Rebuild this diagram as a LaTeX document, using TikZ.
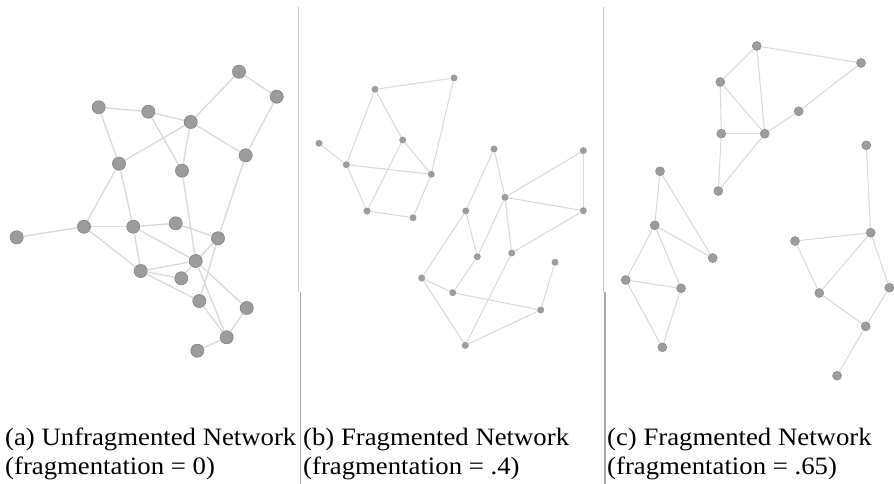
\documentclass[tikz,border=0pt]{standalone}
\usepackage{fontspec}
\setmainfont{Liberation Serif}
\usepackage{graphicx}
\definecolor{dotgray}{HTML}{9C9C9C}
\definecolor{rimgray}{HTML}{8A8A8A}
\definecolor{linkgray}{HTML}{DADADA}
\definecolor{rulegray}{HTML}{C8C8C8}
\definecolor{footgray}{HTML}{A8A8A8}
\newcommand{\capt}[1]{\scalebox{1.07}[1]{#1}}
\begin{document}
\begin{tikzpicture}[x=1pt, y=-1pt,
    bignode/.style={circle, fill=dotgray, draw=rimgray, line width=0.8pt, minimum size=13pt, inner sep=0pt},
    smallnode/.style={circle, fill=dotgray, minimum size=7pt, inner sep=0pt},
    midnode/.style={circle, fill=dotgray, draw=rimgray, line width=0.5pt, minimum size=9pt, inner sep=0pt},
    link/.style={draw=linkgray, line width=1.4pt},
    thinlink/.style={draw=linkgray, line width=1.1pt},
    caption/.style={anchor=base west, align=left, inner sep=0pt, font=\fontsize{25}{28.5}\selectfont}]
    \useasboundingbox (0,0) rectangle (894,484);

    \draw[rulegray, line width=1.4pt] (298.3,7) -- (298.3,292);
    \draw[footgray, line width=1.4pt] (300.7,292) -- (300.7,484);
    \draw[rulegray, line width=1.4pt] (603.3,7) -- (603.3,292);
    \draw[footgray, line width=1.4pt] (605,292) -- (605,484);

    \node(a1)[bignode] at (239,71.7) {};
    \node(a2)[bignode] at (276.7,96.7) {};
    \node(a3)[bignode] at (98.7,107.3) {};
    \node(a4)[bignode] at (148.3,111.7) {};
    \node(a5)[bignode] at (190.7,122) {};
    \node(a6)[bignode] at (245.7,155.3) {};
    \node(a7)[bignode] at (119,163.7) {};
    \node(a8)[bignode] at (182,170.7) {};
    \node(a9)[bignode] at (84,226.7) {};
    \node(a10)[bignode] at (133.3,226.7) {};
    \node(a11)[bignode] at (175.7,223.3) {};
    \node(a12)[bignode] at (16.7,237.3) {};
    \node(a13)[bignode] at (218,238.3) {};
    \node(a14)[bignode] at (195.7,261) {};
    \node(a15)[bignode] at (140.7,271) {};
    \node(a16)[bignode] at (181.3,278.3) {};
    \node(a17)[bignode] at (199.3,301) {};
    \node(a18)[bignode] at (246.7,308) {};
    \node(a19)[bignode] at (226.7,337.3) {};
    \node(a20)[bignode] at (197.3,350.7) {};

    \draw[link] (a1) -- (a2);
    \draw[link] (a1) -- (a5);
    \draw[link] (a2) -- (a6);
    \draw[link] (a3) -- (a4);
    \draw[link] (a3) -- (a7);
    \draw[link] (a4) -- (a5);
    \draw[link] (a4) -- (a8);
    \draw[link] (a5) -- (a7);
    \draw[link] (a5) -- (a6);
    \draw[link] (a5) -- (a8);
    \draw[link] (a8) -- (a14);
    \draw[link] (a6) -- (a13);
    \draw[link] (a13) -- (a17);
    \draw[link] (a7) -- (a9);
    \draw[link] (a7) -- (a10);
    \draw[link] (a9) -- (a12);
    \draw[link] (a9) -- (a10);
    \draw[link] (a9) -- (a15);
    \draw[link] (a10) -- (a11);
    \draw[link] (a10) -- (a14);
    \draw[link] (a10) -- (a15);
    \draw[link] (a11) -- (a13);
    \draw[link] (a13) -- (a14);
    \draw[link] (a14) -- (a15);
    \draw[link] (a14) -- (a16);
    \draw[link] (a15) -- (a16);
    \draw[link] (a15) -- (a17);
    \draw[link] (a14) -- (a18);
    \draw[link] (a14) -- (a19);
    \draw[link] (a17) -- (a19);
    \draw[link] (a18) -- (a19);
    \draw[link] (a19) -- (a20);

    \node(b1)[smallnode] at (454,78) {};
    \node(b2)[smallnode] at (375,89.3) {};
    \node(b3)[smallnode] at (319,143.3) {};
    \node(b4)[smallnode] at (402.7,140) {};
    \node(b5)[smallnode] at (346.3,164.7) {};
    \node(b6)[smallnode] at (431.3,174.3) {};
    \node(b7)[smallnode] at (367,211) {};
    \node(b8)[smallnode] at (413,217.7) {};
    \node(b9)[smallnode] at (494,149) {};
    \node(b10)[smallnode] at (583.3,150.7) {};
    \node(b11)[smallnode] at (505,197.3) {};
    \node(b12)[smallnode] at (465.7,211) {};
    \node(b13)[smallnode] at (583.3,210.7) {};
    \node(b14)[smallnode] at (477.3,256.7) {};
    \node(b15)[smallnode] at (511.7,253) {};
    \node(b16)[smallnode] at (555,262.3) {};
    \node(b17)[smallnode] at (421.7,278) {};
    \node(b18)[smallnode] at (452.7,292.7) {};
    \node(b19)[smallnode] at (540.7,310) {};
    \node(b20)[smallnode] at (465.3,345.3) {};

    \draw[thinlink] (b2) -- (b1);
    \draw[thinlink] (b1) -- (b6);
    \draw[thinlink] (b2) -- (b4);
    \draw[thinlink] (b2) -- (b5);
    \draw[thinlink] (b3) -- (b5);
    \draw[thinlink] (b4) -- (b6);
    \draw[thinlink] (b4) -- (b7);
    \draw[thinlink] (b5) -- (b6);
    \draw[thinlink] (b5) -- (b7);
    \draw[thinlink] (b7) -- (b8);
    \draw[thinlink] (b8) -- (b6);
    \draw[thinlink] (b9) -- (b12);
    \draw[thinlink] (b9) -- (b11);
    \draw[thinlink] (b11) -- (b10);
    \draw[thinlink] (b10) -- (b13);
    \draw[thinlink] (b11) -- (b13);
    \draw[thinlink] (b11) -- (b14);
    \draw[thinlink] (b11) -- (b15);
    \draw[thinlink] (b12) -- (b14);
    \draw[thinlink] (b12) -- (b17);
    \draw[thinlink] (b14) -- (b18);
    \draw[thinlink] (b13) -- (b15);
    \draw[thinlink] (b15) -- (b20);
    \draw[thinlink] (b17) -- (b18);
    \draw[thinlink] (b17) -- (b20);
    \draw[thinlink] (b18) -- (b19);
    \draw[thinlink] (b19) -- (b20);
    \draw[thinlink] (b19) -- (b16);

    \node(c1)[midnode] at (756.7,46) {};
    \node(c2)[midnode] at (861,63) {};
    \node(c3)[midnode] at (720.3,82) {};
    \node(c4)[midnode] at (798.7,111.3) {};
    \node(c5)[midnode] at (721.3,133.7) {};
    \node(c6)[midnode] at (764.7,133.7) {};
    \node(c7)[midnode] at (718.3,191) {};
    \node(c8)[midnode] at (660,171.3) {};
    \node(c9)[midnode] at (654.7,225.3) {};
    \node(c10)[midnode] at (712.7,258) {};
    \node(c11)[midnode] at (625.7,280) {};
    \node(c12)[midnode] at (681,288.3) {};
    \node(c13)[midnode] at (662.3,347.3) {};
    \node(c14)[midnode] at (866.3,145.3) {};
    \node(c15)[midnode] at (870.7,232.7) {};
    \node(c16)[midnode] at (795,241) {};
    \node(c17)[midnode] at (819.3,293) {};
    \node(c18)[midnode] at (889.3,287.7) {};
    \node(c19)[midnode] at (865.7,326.3) {};
    \node(c20)[midnode] at (837,375.7) {};

    \draw[thinlink] (c1) -- (c2);
    \draw[thinlink] (c1) -- (c3);
    \draw[thinlink] (c1) -- (c6);
    \draw[thinlink] (c3) -- (c5);
    \draw[thinlink] (c3) -- (c6);
    \draw[thinlink] (c5) -- (c6);
    \draw[thinlink] (c6) -- (c4);
    \draw[thinlink] (c4) -- (c2);
    \draw[thinlink] (c5) -- (c7);
    \draw[thinlink] (c7) -- (c6);
    \draw[thinlink] (c8) -- (c9);
    \draw[thinlink] (c8) -- (c10);
    \draw[thinlink] (c9) -- (c10);
    \draw[thinlink] (c9) -- (c11);
    \draw[thinlink] (c9) -- (c12);
    \draw[thinlink] (c11) -- (c12);
    \draw[thinlink] (c11) -- (c13);
    \draw[thinlink] (c12) -- (c13);
    \draw[thinlink] (c14) -- (c15);
    \draw[thinlink] (c15) -- (c16);
    \draw[thinlink] (c15) -- (c17);
    \draw[thinlink] (c15) -- (c18);
    \draw[thinlink] (c16) -- (c17);
    \draw[thinlink] (c17) -- (c19);
    \draw[thinlink] (c18) -- (c19);
    \draw[thinlink] (c19) -- (c20);

    \node(capa)[caption] at (5,474) {\capt{(a) Unfragmented Network}\\\capt{(fragmentation = 0)}};
    \node(capb)[caption] at (303,474) {\capt{(b) Fragmented Network}\\\capt{(fragmentation = .4)}};
    \node(capc)[caption] at (607,474) {\capt{(c) Fragmented Network}\\\capt{(fragmentation = .65)}};
\end{tikzpicture}
\end{document}
